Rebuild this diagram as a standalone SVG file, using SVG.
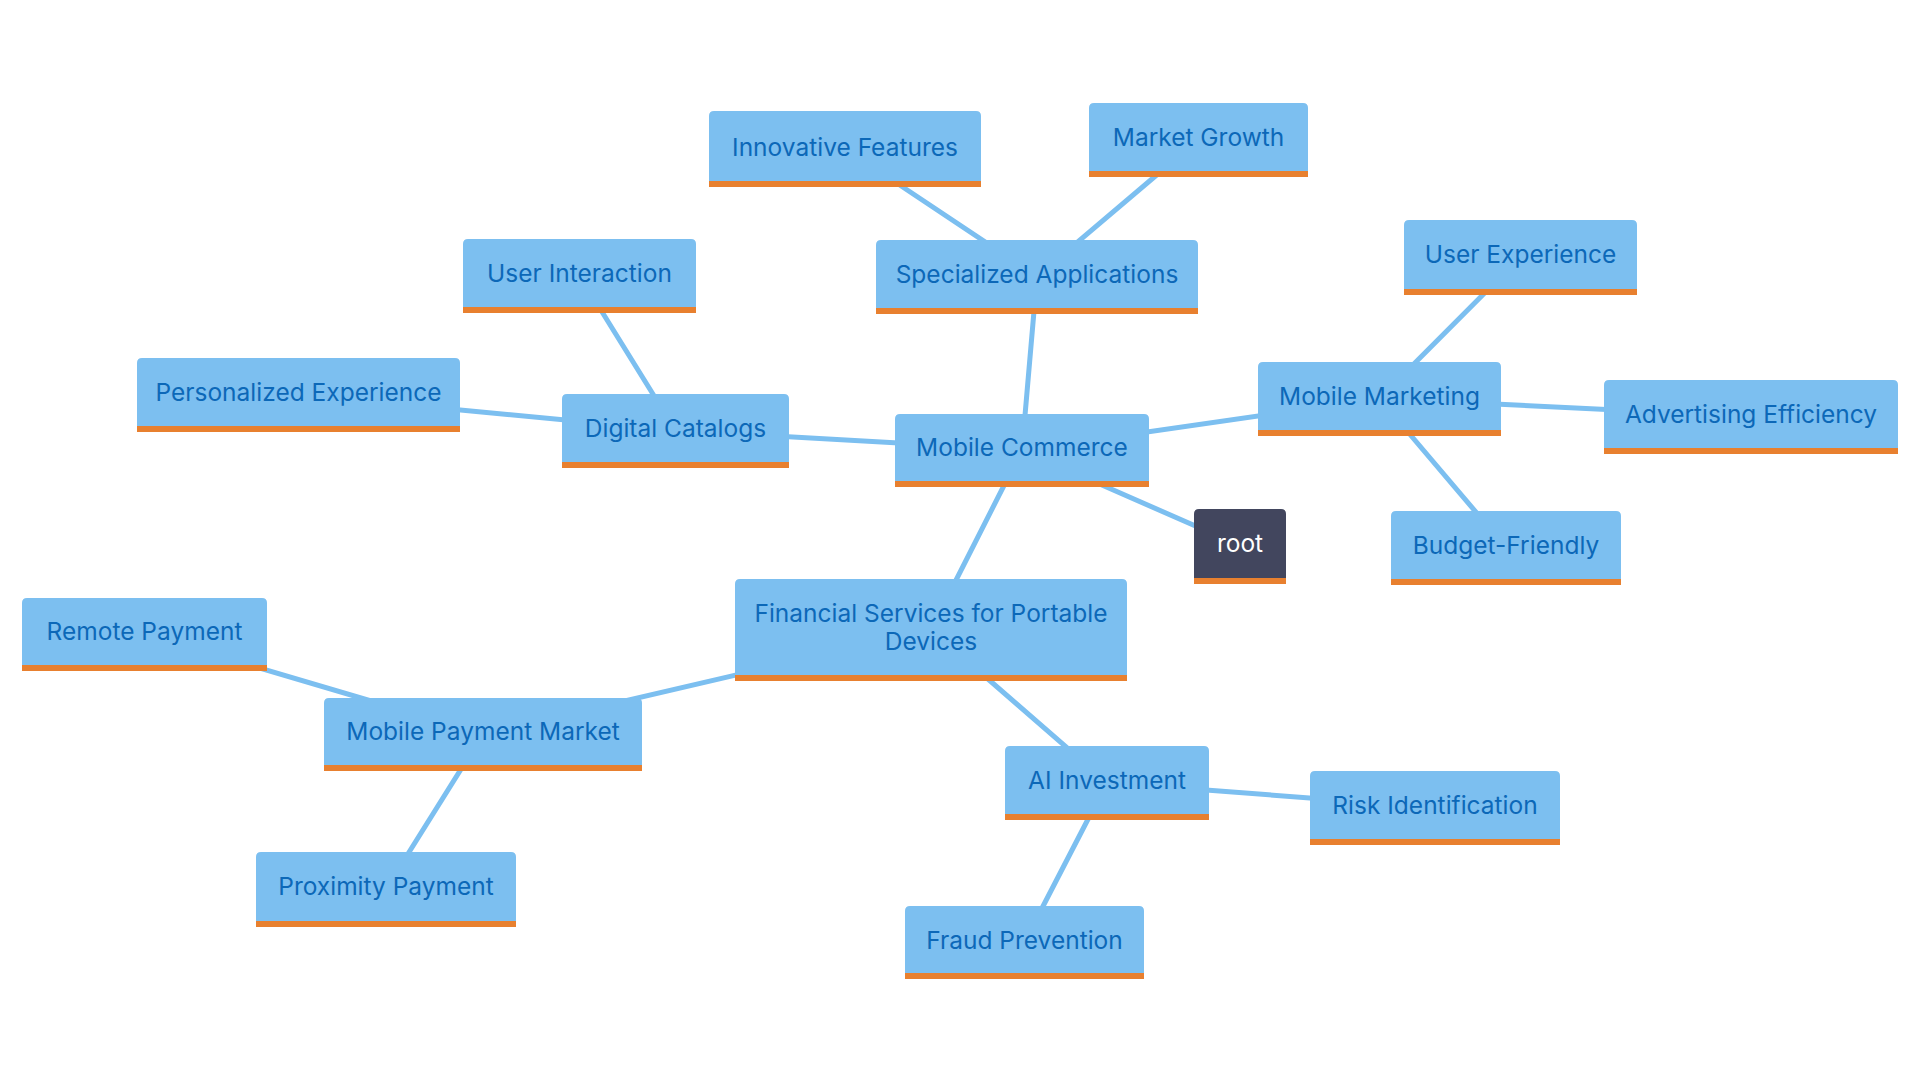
<svg xmlns="http://www.w3.org/2000/svg" width="1920" height="1080" viewBox="0 0 1920 1080">
<style>
.box{fill:#7cbff0}
.bar{fill:#e8802f}
.rootbox{fill:#42465e}
.lbl{font-family:Inter,"Noto Sans",sans-serif;font-size:24.5px;fill:#0c68b8;text-anchor:middle;dominant-baseline:central}
.rootlbl{font-family:Inter,"Noto Sans",sans-serif;font-size:24.5px;fill:#ffffff;text-anchor:middle;dominant-baseline:central}
.edge{stroke:#7cbff0;stroke-width:5;fill:none;stroke-linecap:round}
</style>
<rect width="1920" height="1080" fill="#ffffff"/>
<g id="connectors">
<line class="edge" x1="1022" y1="450" x2="1037" y2="276.5"/>
<line class="edge" x1="1022" y1="450" x2="675.5" y2="430.5"/>
<line class="edge" x1="1022" y1="450" x2="1379.5" y2="398.5"/>
<line class="edge" x1="1022" y1="450" x2="1240" y2="545.5"/>
<line class="edge" x1="1022" y1="450" x2="931" y2="629.5"/>
<line class="edge" x1="1037" y1="276.5" x2="845" y2="148.5"/>
<line class="edge" x1="1037" y1="276.5" x2="1198.5" y2="139.5"/>
<line class="edge" x1="675.5" y1="430.5" x2="579.5" y2="275.5"/>
<line class="edge" x1="675.5" y1="430.5" x2="298.5" y2="394.5"/>
<line class="edge" x1="1379.5" y1="398.5" x2="1520.5" y2="257"/>
<line class="edge" x1="1379.5" y1="398.5" x2="1751" y2="416.5"/>
<line class="edge" x1="1379.5" y1="398.5" x2="1506" y2="547.5"/>
<line class="edge" x1="931" y1="629.5" x2="483" y2="734"/>
<line class="edge" x1="931" y1="629.5" x2="1107" y2="782.5"/>
<line class="edge" x1="483" y1="734" x2="144.5" y2="634"/>
<line class="edge" x1="483" y1="734" x2="386" y2="889"/>
<line class="edge" x1="1107" y1="782.5" x2="1435" y2="807.5"/>
<line class="edge" x1="1107" y1="782.5" x2="1024.5" y2="942"/>
</g>
<g id="node-mobile-commerce">
<path class="box" d="M895 481V419Q895 414 900 414H1144Q1149 414 1149 419V481Z"/>
<rect class="bar" x="895" y="481" width="254" height="6"/>
<text class="lbl" x="1022" y="447">Mobile Commerce</text>
</g>
<g id="node-specialized-applications">
<path class="box" d="M876 308V245Q876 240 881 240H1193Q1198 240 1198 245V308Z"/>
<rect class="bar" x="876" y="308" width="322" height="6"/>
<text class="lbl" x="1037" y="274">Specialized Applications</text>
</g>
<g id="node-innovative-features">
<path class="box" d="M709 181V116Q709 111 714 111H976Q981 111 981 116V181Z"/>
<rect class="bar" x="709" y="181" width="272" height="6"/>
<text class="lbl" x="845" y="147">Innovative Features</text>
</g>
<g id="node-market-growth">
<path class="box" d="M1089 171V108Q1089 103 1094 103H1303Q1308 103 1308 108V171Z"/>
<rect class="bar" x="1089" y="171" width="219" height="6"/>
<text class="lbl" x="1198.5" y="137">Market Growth</text>
</g>
<g id="node-digital-catalogs">
<path class="box" d="M562 462V399Q562 394 567 394H784Q789 394 789 399V462Z"/>
<rect class="bar" x="562" y="462" width="227" height="6"/>
<text class="lbl" x="675.5" y="428">Digital Catalogs</text>
</g>
<g id="node-user-interaction">
<path class="box" d="M463 307V244Q463 239 468 239H691Q696 239 696 244V307Z"/>
<rect class="bar" x="463" y="307" width="233" height="6"/>
<text class="lbl" x="579.5" y="273">User Interaction</text>
</g>
<g id="node-personalized-experience">
<path class="box" d="M137 426V363Q137 358 142 358H455Q460 358 460 363V426Z"/>
<rect class="bar" x="137" y="426" width="323" height="6"/>
<text class="lbl" x="298.5" y="392">Personalized Experience</text>
</g>
<g id="node-mobile-marketing">
<path class="box" d="M1258 430V367Q1258 362 1263 362H1496Q1501 362 1501 367V430Z"/>
<rect class="bar" x="1258" y="430" width="243" height="6"/>
<text class="lbl" x="1379.5" y="396">Mobile Marketing</text>
</g>
<g id="node-user-experience">
<path class="box" d="M1404 289V225Q1404 220 1409 220H1632Q1637 220 1637 225V289Z"/>
<rect class="bar" x="1404" y="289" width="233" height="6"/>
<text class="lbl" x="1520.5" y="254">User Experience</text>
</g>
<g id="node-advertising-efficiency">
<path class="box" d="M1604 448V385Q1604 380 1609 380H1893Q1898 380 1898 385V448Z"/>
<rect class="bar" x="1604" y="448" width="294" height="6"/>
<text class="lbl" x="1751" y="414">Advertising Efficiency</text>
</g>
<g id="node-budget-friendly">
<path class="box" d="M1391 579V516Q1391 511 1396 511H1616Q1621 511 1621 516V579Z"/>
<rect class="bar" x="1391" y="579" width="230" height="6"/>
<text class="lbl" x="1506" y="545">Budget-Friendly</text>
</g>
<g id="node-root">
<path class="rootbox" d="M1194 578V514Q1194 509 1199 509H1281Q1286 509 1286 514V578Z"/>
<rect class="bar" x="1194" y="578" width="92" height="6"/>
<text class="rootlbl" x="1240" y="543">root</text>
</g>
<g id="node-financial-services">
<path class="box" d="M735 675V584Q735 579 740 579H1122Q1127 579 1127 584V675Z"/>
<rect class="bar" x="735" y="675" width="392" height="6"/>
<text class="lbl" x="931" y="613">Financial Services for Portable</text>
<text class="lbl" x="931" y="641">Devices</text>
</g>
<g id="node-remote-payment">
<path class="box" d="M22 665V603Q22 598 27 598H262Q267 598 267 603V665Z"/>
<rect class="bar" x="22" y="665" width="245" height="6"/>
<text class="lbl" x="144.5" y="631">Remote Payment</text>
</g>
<g id="node-mobile-payment-market">
<path class="box" d="M324 765V703Q324 698 329 698H637Q642 698 642 703V765Z"/>
<rect class="bar" x="324" y="765" width="318" height="6"/>
<text class="lbl" x="483" y="731">Mobile Payment Market</text>
</g>
<g id="node-proximity-payment">
<path class="box" d="M256 921V857Q256 852 261 852H511Q516 852 516 857V921Z"/>
<rect class="bar" x="256" y="921" width="260" height="6"/>
<text class="lbl" x="386" y="886">Proximity Payment</text>
</g>
<g id="node-ai-investment">
<path class="box" d="M1005 814V751Q1005 746 1010 746H1204Q1209 746 1209 751V814Z"/>
<rect class="bar" x="1005" y="814" width="204" height="6"/>
<text class="lbl" x="1107" y="780">AI Investment</text>
</g>
<g id="node-risk-identification">
<path class="box" d="M1310 839V776Q1310 771 1315 771H1555Q1560 771 1560 776V839Z"/>
<rect class="bar" x="1310" y="839" width="250" height="6"/>
<text class="lbl" x="1435" y="805">Risk Identification</text>
</g>
<g id="node-fraud-prevention">
<path class="box" d="M905 973V911Q905 906 910 906H1139Q1144 906 1144 911V973Z"/>
<rect class="bar" x="905" y="973" width="239" height="6"/>
<text class="lbl" x="1024.5" y="940">Fraud Prevention</text>
</g>
</svg>
